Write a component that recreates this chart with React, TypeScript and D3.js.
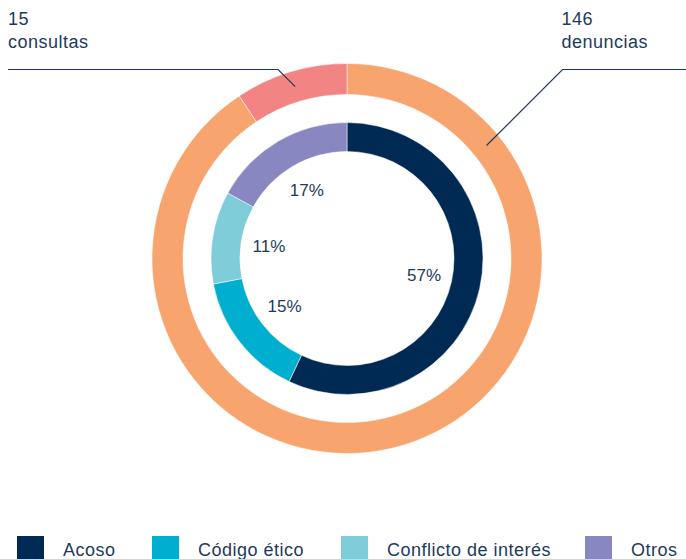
import React from "react";
import * as d3 from "d3";

const outerLabels = ["denuncias", "consultas"];
const outerValues = [146, 15];
const outerColors = ["#f7a46f", "#f28583"];

const innerLabels = ["Acoso", "Código ético", "Conflicto de interés", "Otros"];
const innerValues = [57, 15, 11, 17];
const innerColors = ["#002a54", "#00afd0", "#7fcdd9", "#8987c1"];

const W = 686;
const H = 559;
const TEXT = "#1d3a5c";
const FONT = "'Liberation Sans', Arial, sans-serif";

export default function App() {
  const cx = 347;
  const cy = 258.5;
  const outerR = 195;
  const outerIn = 164;
  const innerR = 136;
  const innerIn = 107;

  const pie = d3
    .pie<number>()
    .sort(null)
    .value((d) => d)
    .startAngle(0)
    .endAngle(2 * Math.PI);

  const outerArcs = pie(outerValues);
  const innerArcs = pie(innerValues);

  const outerArc = d3.arc<d3.PieArcDatum<number>>().innerRadius(outerIn).outerRadius(outerR);
  const innerArc = d3.arc<d3.PieArcDatum<number>>().innerRadius(innerIn).outerRadius(innerR);
  const labelArc = d3.arc<d3.PieArcDatum<number>>().innerRadius(79).outerRadius(79);

  const midR = (outerR + outerIn) / 2;
  const lineY = 69.5;

  // left leader: from consultas centroid along 45° up-left
  const cC = outerArc.centroid(outerArcs[1]);
  const lx0 = cx + cC[0];
  const ly0 = cy + cC[1];
  const lx1 = lx0 - (ly0 - lineY);
  const leftPath = d3.path();
  leftPath.moveTo(lx0, ly0);
  leftPath.lineTo(lx1, lineY);
  leftPath.lineTo(8, lineY);

  // right leader: anchor on denuncias ring
  const anchorAngle = (51 * Math.PI) / 180;
  const rx0 = cx + midR * Math.sin(anchorAngle);
  const ry0 = cy - midR * Math.cos(anchorAngle);
  const rx1 = rx0 + (ry0 - lineY);
  const rightPath = d3.path();
  rightPath.moveTo(rx0, ry0);
  rightPath.lineTo(rx1, lineY);
  rightPath.lineTo(W, lineY);

  const legendX = [17, 152, 341, 585];

  return (
    <svg
      width={W}
      height={H}
      style={{ position: "absolute", left: 0, top: 0, background: "#fff" }}
      fontFamily={FONT}
    >
      <g transform={`translate(${cx},${cy})`}>
        {outerArcs.map((a, i) => (
          <path key={outerLabels[i]} d={outerArc(a) || ""} fill={outerColors[i]} stroke="#fff" strokeWidth={0.5} />
        ))}
        {innerArcs.map((a, i) => (
          <path key={innerLabels[i]} d={innerArc(a) || ""} fill={innerColors[i]} stroke="#fff" strokeWidth={0.5} />
        ))}
        {innerArcs.map((a, i) => {
          const [x, y] = labelArc.centroid(a);
          return (
            <text
              key={"l" + i}
              x={x}
              y={y}
              textAnchor="middle"
              dominantBaseline="central"
              fontSize={17}
              fill={TEXT}
            >
              {Math.round((a.value / d3.sum(innerValues)) * 100)}%
            </text>
          );
        })}
      </g>

      <path d={leftPath.toString()} fill="none" stroke={TEXT} strokeWidth={1.2} />
      <path d={rightPath.toString()} fill="none" stroke={TEXT} strokeWidth={1.2} />

      <g fontSize={18} fill={TEXT} letterSpacing={0.5}>
        <text x={8} y={25}>{outerValues[1]}</text>
        <text x={8} y={48}>{outerLabels[1]}</text>
        <text x={rx1 - 1} y={25}>{outerValues[0]}</text>
        <text x={rx1 - 1} y={48}>{outerLabels[0]}</text>
      </g>

      {innerLabels.map((lab, i) => (
        <g key={"lg" + i}>
          <rect x={legendX[i]} y={536} width={27} height={27} fill={innerColors[i]} />
          <text x={legendX[i] + 46} y={556} fontSize={18} letterSpacing={0.5} fill={TEXT}>{lab}</text>
        </g>
      ))}
    </svg>
  );
}
